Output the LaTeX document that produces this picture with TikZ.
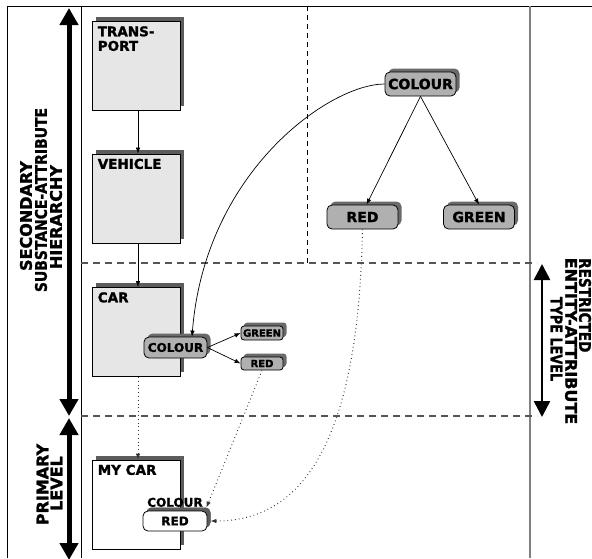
\documentclass[tikz,border=0pt]{standalone}
\usepackage{fontspec}
\setmainfont{DejaVu Sans}[BoldFeatures={FakeBold=1.5}]
\usetikzlibrary{arrows.meta,shadows}

\definecolor{boxfill}{HTML}{E6E6E6}
\definecolor{boxshade}{HTML}{5C5C5C}
\definecolor{tagfill}{HTML}{B0B0B0}
\definecolor{tagshade}{HTML}{6A6A6A}
\definecolor{rulegray}{HTML}{808080}
\definecolor{dashgray}{HTML}{555555}
\definecolor{dotgray}{HTML}{333333}

\begin{document}
\begin{tikzpicture}[x=1pt,y=-1pt,
  classbox/.style={draw=black, line width=0.8pt, fill=boxfill,
    minimum width=88pt, minimum height=89pt, inner sep=0pt,
    general shadow={fill=boxshade, shadow xshift=4pt, shadow yshift=4.5pt}},
  boxlabel/.style={anchor=north west, inner sep=0pt, align=left,
    font=\fontsize{13.5}{14.5}\selectfont\bfseries},
  tag/.style={draw=black, line width=0.8pt, fill=tagfill, rounded corners=5pt,
    inner sep=0pt,
    general shadow={fill=tagshade, shadow xshift=3.5pt, shadow yshift=3.5pt}},
  bigtag/.style={tag, minimum width=71pt, minimum height=24pt,
    font=\fontsize{14}{14}\selectfont\bfseries},
  smalltag/.style={tag, rounded corners=3pt, minimum width=42pt, minimum height=14pt,
    font=\fontsize{10}{10}\selectfont\bfseries,
    general shadow={fill=tagshade, shadow xshift=2.5pt, shadow yshift=2.5pt}},
  link/.style={draw=black, line width=0.7pt, -{Latex[length=6pt,width=4.5pt]}},
  dotlink/.style={draw=dotgray, line width=1pt, dash pattern=on 0.8pt off 3pt,
    -{Latex[length=6pt,width=4.5pt]}},
  levelarrow/.style={line width=5pt,
    {Triangle[length=17pt,width=18pt]}-{Triangle[length=17pt,width=18pt]}},
  typearrow/.style={line width=2.6pt,
    {Triangle[length=16pt,width=16pt]}-{Triangle[length=16pt,width=16pt]}},
  sideline/.style={inner sep=0pt, font=\fontsize{16}{16}\selectfont\bfseries}
]
\useasboundingbox (0,0) rectangle (592,558);

% frame and column rules
\draw[line width=0.9pt] (7,558) -- (7,6) -- (592,6);
\draw[line width=0.9pt] (81,6) -- (81,558);
\draw[rulegray, line width=1.6pt] (530,6) -- (530,558);

% level separators
\draw[dashgray, line width=1.1pt, dash pattern=on 7pt off 5pt] (81,263) -- (537,263);
\draw[dashgray, line width=1.1pt, dash pattern=on 7pt off 5pt] (81,416) -- (537,416);
\draw[black, line width=0.8pt, dash pattern=on 5pt off 4pt] (307,6) -- (307,263);

% level arrows
\coordinate (secTop) at (69,8);
\coordinate (secBot) at (69,416);
\coordinate (priTop) at (69,418);
\coordinate (priBot) at (69,560);
\coordinate (typTop) at (542,264);
\coordinate (typBot) at (542,417);
\draw[levelarrow] (secTop) -- (secBot);
\draw[levelarrow] (priTop) -- (priBot);
\draw[typearrow] (typTop) -- (typBot);

% level names, one line each
\node[sideline, rotate=90] (secA) at (26,216) {SECONDARY};
\node[sideline, rotate=90] (secB) at (41,200) {\scalebox{0.87}[1]{SUBSTANCE-ATTRIBUTE}};
\node[sideline, rotate=90] (secC) at (56,217) {HIERARCHY};
\node[sideline, rotate=90] (priA) at (42.5,484.5) {PRIMARY};
\node[sideline, rotate=90] (priB) at (56.5,483.5) {LEVEL};
\node[sideline, rotate=-90, anchor=west] (typA) at (585,258) {\scalebox{0.85}[1]{RESTRICTED}};
\node[sideline, rotate=-90] (typB) at (571,341) {ENTITY-ATTRIBUTE};
\node[sideline, rotate=-90] (typC) at (556.5,339) {\scalebox{0.8}[1]{TYPE LEVEL}};

% class boxes
\node[classbox] (transport) at (136,66) {};
\node[classbox] (vehicle) at (136,198.5) {};
\node[classbox] (car) at (136,332) {};
\node[classbox, fill=white] (mycar) at (136,504.5) {};

\node[boxlabel] (transportlbl) at ([xshift=6pt,yshift=-5pt]transport.north west) {TRANS-\\PORT};
\node[boxlabel] (vehiclelbl) at ([xshift=6pt,yshift=-5pt]vehicle.north west) {VEHICLE};
\node[boxlabel] (carlbl) at ([xshift=6pt,yshift=-5pt]car.north west) {CAR};
\node[boxlabel] (mycarlbl) at ([xshift=6pt,yshift=-5pt]mycar.north west) {MY CAR};

% attribute hierarchy
\node[bigtag] (topcol) at (420.5,84) {COLOUR};
\node[bigtag] (bigred) at (362.5,217) {RED};
\node[bigtag] (biggreen) at (479,217) {GREEN};

% attribute attached to CAR
\node[tag, minimum width=63pt, minimum height=21pt,
  font=\fontsize{12}{12}\selectfont\bfseries] (carcol) at (175.5,347.5) {COLOUR};
\node[smalltag] (smallgreen) at (262,333) {GREEN};
\node[smalltag, minimum height=13pt] (smallred) at (262,363.5) {RED};

% attribute value of MY CAR
\node[tag, fill=white, minimum width=64pt, minimum height=20pt,
  font=\fontsize{12}{12}\selectfont\bfseries,
  general shadow={fill=boxshade, shadow xshift=3.5pt, shadow yshift=3.5pt}] (myred) at (175,521) {RED};
\node[anchor=south, inner sep=0pt, font=\fontsize{12}{12}\selectfont\bfseries] (mycol)
  at ([yshift=3.5pt]myred.north) {COLOUR};

% connectors
\draw[link] ([xshift=2pt]transport.south) -- ([xshift=2pt]vehicle.north);
\draw[link] ([xshift=2pt]vehicle.south) -- ([xshift=2pt]car.north);
\draw[dotlink] ([xshift=2pt]car.south) -- ([xshift=2pt]mycar.north);
\draw[link] (topcol.south) -- ([xshift=4pt]bigred.north);
\draw[link] (topcol.south) -- (biggreen.north);
\draw[link] (topcol.west) .. controls +(-55,0) and +(13,-165) .. ([xshift=16.5pt]carcol.north);
\draw[link] (carcol.east) -- (smallgreen.west);
\draw[link] (carcol.east) -- (smallred.west);
\draw[dotlink] (smallred.south) -- ([xshift=-1pt,yshift=3pt]myred.north east);
\draw[dotlink] (bigred.south) .. controls +(-4,219) and +(89,0) .. ([xshift=3pt]myred.east);
\end{tikzpicture}
\end{document}
